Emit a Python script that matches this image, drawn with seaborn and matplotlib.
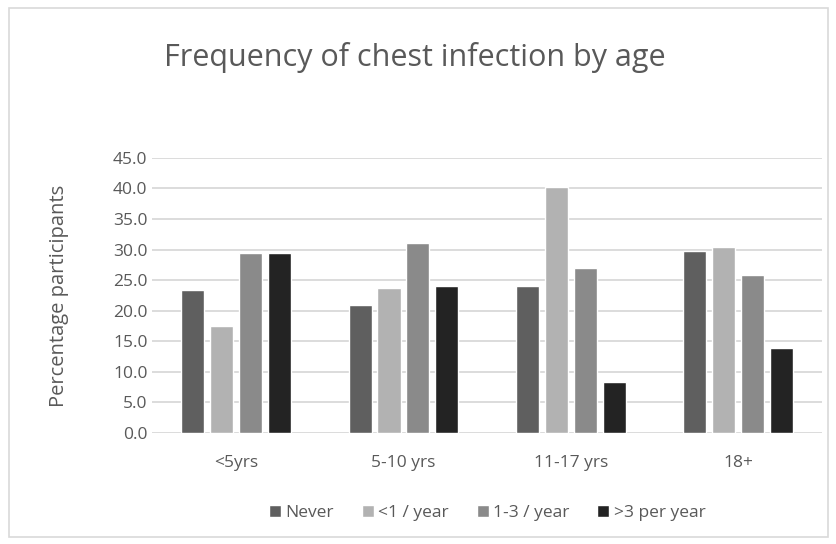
import pandas as pd
import matplotlib.pyplot as plt
import seaborn as sns
from matplotlib.patches import Rectangle

# values
age_groups = ['<5yrs', '5-10 yrs', '11-17 yrs', '18+']
frequencies = ['Never', '<1 / year', '1-3 / year', '>3 per year']
never = [23.4, 21.0, 24.0, 29.8]
less_than_1 = [17.5, 23.7, 40.3, 30.4]
one_to_3 = [29.5, 31.0, 27.0, 25.8]
more_than_3 = [29.5, 24.0, 8.4, 13.9]
y_ticks = [0, 5, 10, 15, 20, 25, 30, 35, 40, 45]

colours = ['#5f5f5f', '#b2b2b2', '#8a8a8a', '#232323']
text_col = '#595959'

rows = []
for series_name, vals in zip(frequencies, [never, less_than_1, one_to_3, more_than_3]):
    for age, v in zip(age_groups, vals):
        rows.append({'age': age, 'freq': series_name, 'pct': v})
df = pd.DataFrame(rows)

sns.set_style('white')
plt.rcParams['font.family'] = ['Open Sans', 'DejaVu Sans']

fig = plt.figure(figsize=(8.37, 5.44), dpi=100)
ax = fig.add_axes([0.182, 0.204, 0.800, 0.506])

sns.barplot(data=df, x='age', y='pct', hue='freq', order=age_groups,
            hue_order=frequencies, palette=colours, width=0.69, gap=0.2,
            saturation=1, ax=ax, zorder=3)

ax.set_ylim(0, 45)
ax.set_yticks(y_ticks)
ax.set_yticklabels([f'{t:.1f}' for t in y_ticks])
ax.set_xlim(-0.5, 3.5)
ax.yaxis.grid(True, color='#d9d9d9', linewidth=1.3, zorder=0)
ax.set_axisbelow(True)
for s in ax.spines.values():
    s.set_visible(False)
ax.tick_params(axis='both', length=0, labelsize=12.5, labelcolor=text_col)
ax.tick_params(axis='x', pad=16)
ax.set_xlabel('')
ax.set_ylabel('Percentage participants', fontsize=14.5, color=text_col)
ax.yaxis.set_label_coords(-0.125, 0.5)

fig.text(0.495, 0.895, 'Frequency of chest infection by age', ha='center',
         va='center', fontsize=22, color=text_col)

leg = ax.legend(loc='upper center', bbox_to_anchor=(0.5, -0.205), ncol=4,
                frameon=False, fontsize=12.5, handlelength=0.7, handleheight=0.7,
                handletextpad=0.25, columnspacing=1.6)
for t in leg.get_texts():
    t.set_color(text_col)

# light chart border like the spreadsheet export
fig.patches.append(Rectangle((0.011, 0.012), 0.978, 0.973, transform=fig.transFigure,
                             fill=False, edgecolor='#d9d9d9', linewidth=1.2))

fig.savefig('out.png', dpi=100)
